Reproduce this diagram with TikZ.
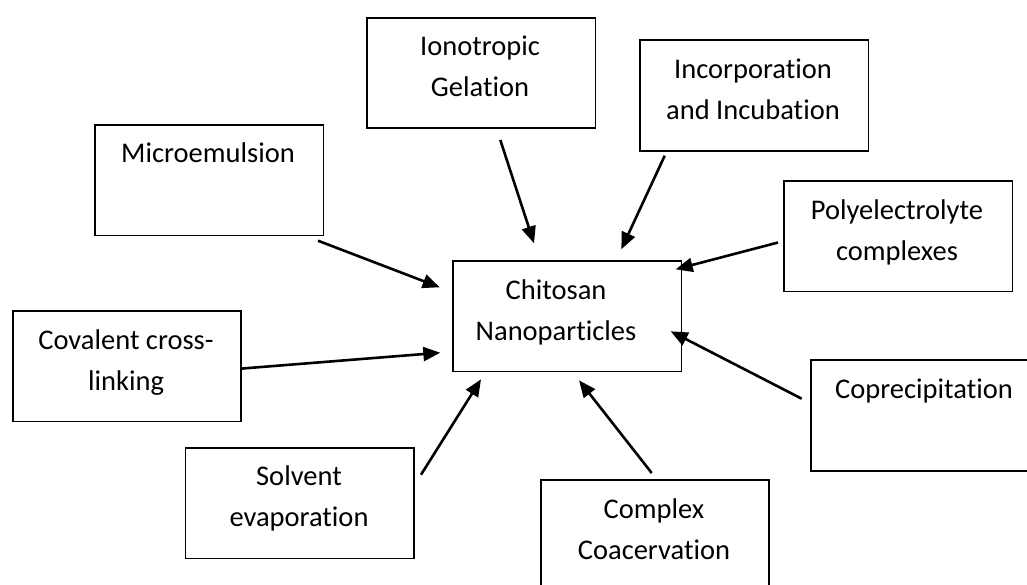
\documentclass[tikz,border=0pt]{standalone}
\usepackage{fontspec}
\setmainfont{Carlito}[Ligatures=NoCommon]
\usetikzlibrary{arrows.meta}
\begin{document}
\begin{tikzpicture}[x=1pt,y=-1pt,
  box/.style={draw=black, line width=1.8pt, minimum width=228.5pt, minimum height=110.5pt, inner sep=0pt, anchor=north west},
  lbl/.style={align=center, anchor=base, inner sep=0pt, font=\fontsize{28.5}{41}\selectfont},
  arr/.style={line width=2.6pt, -{Triangle[length=17pt,width=14pt]}}]
\useasboundingbox (0,0) rectangle (1027,584);
\clip (0,0) rectangle (1027,584);
\fill[white] (0,0) rectangle (1027,584);
% boxes
\node[box] (micro) at (94,124) {};
\node[box] (iono) at (366,16.7) {};
\node[box] (incorp) at (639,39.3) {};
\node[box] (poly) at (783,180) {};
\node[box] (chit) at (452,260) {};
\node[box] (coval) at (11.7,310) {};
\node[box] (solv) at (184.5,447) {};
\node[box] (compl) at (539.7,479.3) {};
\node[box] (copre) at (810,359.3) {};
% labels (anchor = baseline of the last line)
\node[lbl] (microT) at (208,162.5) {Microemulsion};
\node[lbl] (ionoT) at (480,96.5) {Ionotropic\\Gelation};
\node[lbl] (incorpT) at (753,119) {Incorporation\\and Incubation};
\node[lbl] (polyT) at (897,260) {Polyelectrolyte\\complexes};
\node[lbl] (chitT) at (556,340) {Chitosan\\Nanoparticles};
\node[lbl] (covalT) at (126,390) {Covalent cross-\\linking};
\node[lbl] (solvT) at (299,526.5) {Solvent\\evaporation};
\node[lbl] (complT) at (654,559.5) {Complex\\Coacervation};
\node[lbl] (copreT) at (924,398.5) {Coprecipitation};
% arrow end points
\coordinate (microS) at (318,240.7);  \coordinate (microE) at (439.7,287.3);
\coordinate (ionoS) at (500.3,140);   \coordinate (ionoE) at (534,243.3);
\coordinate (incorpS) at (664.7,155.7); \coordinate (incorpE) at (621.3,249.3);
\coordinate (polyS) at (778,242.5);   \coordinate (polyE) at (675.7,269.3);
\coordinate (covalS) at (240,368.7);  \coordinate (covalE) at (440.3,352.7);
\coordinate (solvS) at (421,474.7);   \coordinate (solvE) at (481,379.3);
\coordinate (complS) at (651.7,473);  \coordinate (complE) at (579,380.3);
\coordinate (copreS) at (801.7,398.7); \coordinate (copreE) at (670.7,331.3);
% arrows
\draw[arr] (microS) -- (microE);
\draw[arr] (ionoS) -- (ionoE);
\draw[arr] (incorpS) -- (incorpE);
\draw[arr] (polyS) -- (polyE);
\draw[arr] (covalS) -- (covalE);
\draw[arr] (solvS) -- (solvE);
\draw[arr] (complS) -- (complE);
\draw[arr] (copreS) -- (copreE);
\end{tikzpicture}
\end{document}
